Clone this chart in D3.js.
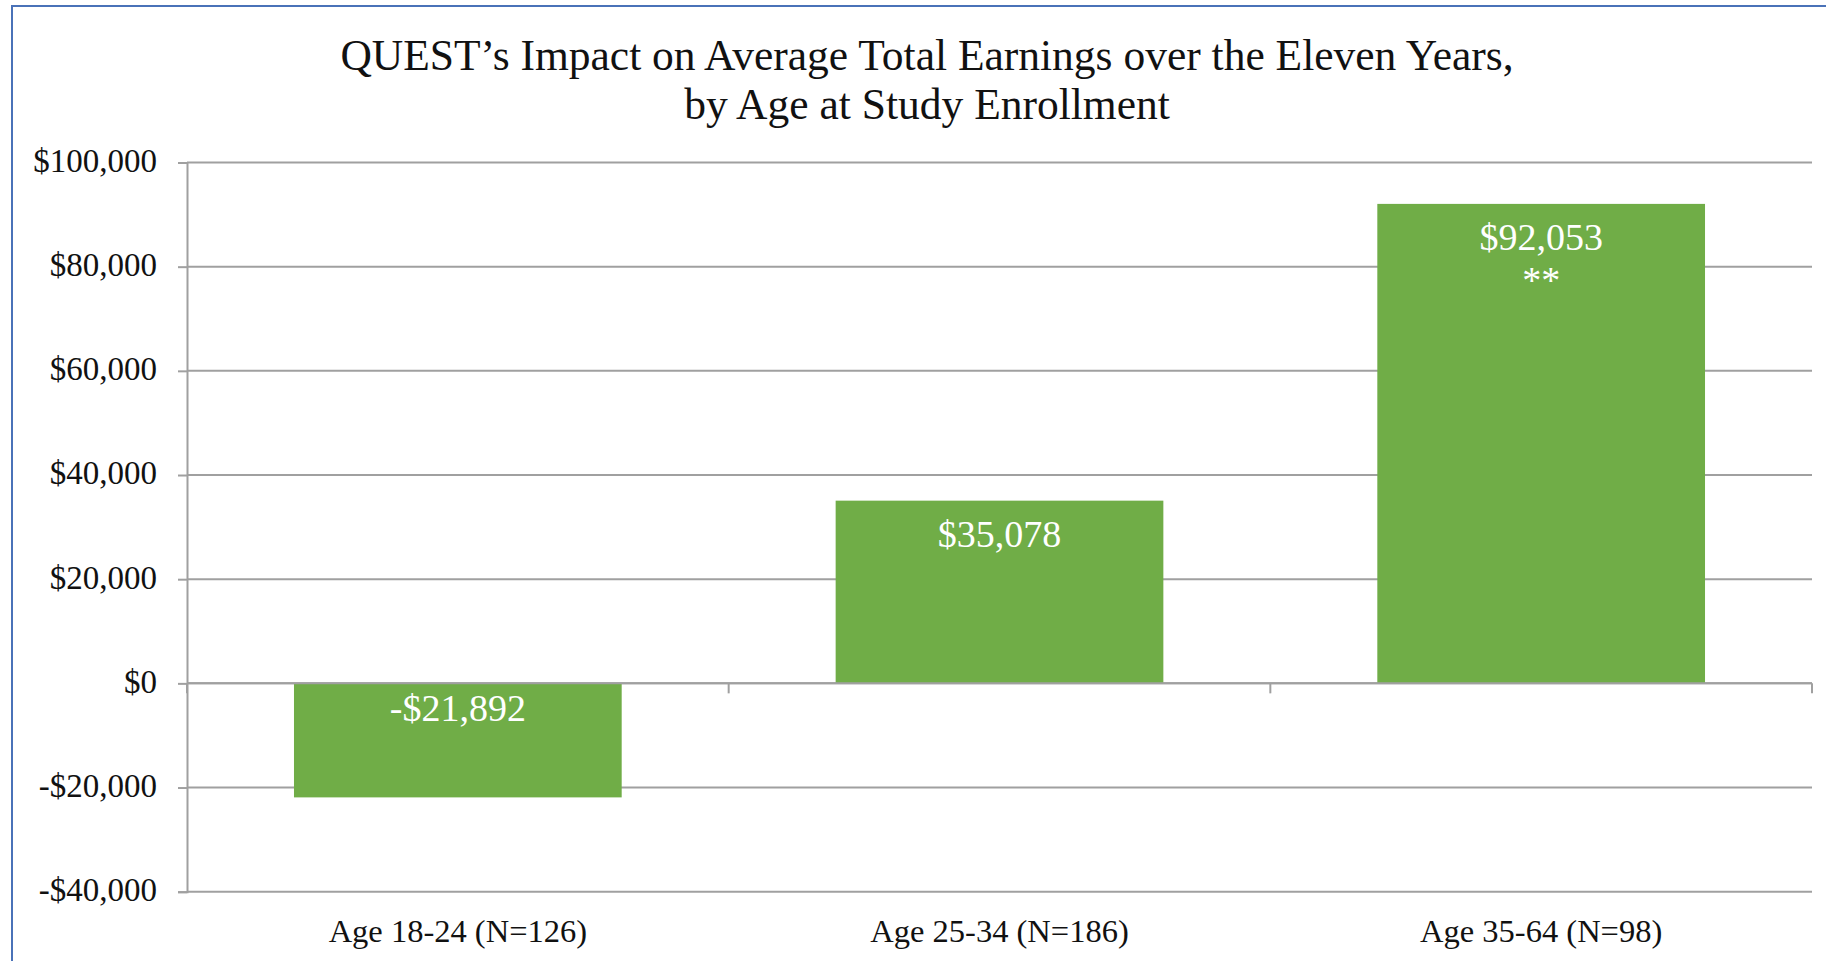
<!DOCTYPE html>
<html>
<head>
<meta charset="utf-8">
<script src="https://cdn.jsdelivr.net/npm/d3@7"></script>
<style>
  body { margin: 0; background: #fff; overflow: hidden; }
  svg { display: block; }
</style>
</head>
<body>
<script>
// chart data
var titleLines = ["QUEST\u2019s Impact on Average Total Earnings over the Eleven Years,", "by Age at Study Enrollment"];
var categories = ["Age 18-24 (N=126)", "Age 25-34 (N=186)", "Age 35-64 (N=98)"];
var values = [-21892, 35078, 92053];
var significance = ["", "", "**"];
var yTicks = [-40000, -20000, 0, 20000, 40000, 60000, 80000, 100000];

var W = 1826, H = 961;
var margin = { top: 162.5, right: 14, bottom: 69.3, left: 187 };
var width = W - margin.left - margin.right,
    height = H - margin.top - margin.bottom;

var fontFamily = "'Liberation Serif', 'DejaVu Serif', serif";
var green = "#70AD47";
var gridColor = "#a0a0a0";

var svg = d3.select("body").append("svg").attr("width", W).attr("height", H);

// chart frame (runs off the right and bottom of the picture)
svg.append("rect")
  .attr("x", 12).attr("y", 6)
  .attr("width", 1900).attr("height", 1000)
  .attr("fill", "none").attr("stroke", "#4a72b8").attr("stroke-width", 2);

// title
svg.append("text")
  .attr("x", 927).attr("y", 70)
  .attr("text-anchor", "middle")
  .style("font-family", fontFamily).style("font-size", "43.5px").attr("fill", "#111")
  .selectAll("tspan").data(titleLines).enter().append("tspan")
  .attr("x", 927).attr("dy", function (d, i) { return i ? 49 : 0; })
  .text(function (d) { return d; });

var g = svg.append("g").attr("transform", "translate(" + margin.left + "," + margin.top + ")");

var x = d3.scaleBand().domain(categories).range([0, width]).paddingInner(0.395).paddingOuter(0.1975);
var y = d3.scaleLinear().domain([-40000, 100000]).range([height, 0]);

function money(v) {
  return (v < 0 ? "-$" : "$") + d3.format(",")(Math.abs(v));
}

// gridlines
g.selectAll(".grid").data(yTicks).enter().append("line")
  .attr("x1", 0).attr("x2", width)
  .attr("y1", function (d) { return y(d); }).attr("y2", function (d) { return y(d); })
  .attr("stroke", gridColor).attr("stroke-width", 2);

// bars
g.selectAll(".bar").data(values).enter().append("rect")
  .attr("x", function (d, i) { return x(categories[i]); })
  .attr("width", x.bandwidth())
  .attr("y", function (d) { return y(Math.max(0, d)); })
  .attr("height", function (d) { return Math.abs(y(d) - y(0)); })
  .attr("fill", green);

// zero line drawn again on top so it stays visible over bars
g.append("line")
  .attr("x1", 0).attr("x2", width).attr("y1", y(0)).attr("y2", y(0))
  .attr("stroke", gridColor).attr("stroke-width", 2);

// category tick marks on the zero line
var bounds = d3.range(categories.length + 1).map(function (i) { return i * x.step(); });
g.selectAll(".xtick").data(bounds).enter().append("line")
  .attr("x1", function (d) { return d; }).attr("x2", function (d) { return d; })
  .attr("y1", y(0)).attr("y2", y(0) + 10)
  .attr("stroke", gridColor).attr("stroke-width", 2);

// y axis
var yAxis = g.append("g")
  .call(d3.axisLeft(y).tickValues(yTicks).tickFormat(money).tickSize(9).tickPadding(21));
yAxis.select(".domain").attr("stroke", gridColor).attr("stroke-width", 2);
yAxis.selectAll(".tick line").attr("stroke", gridColor).attr("stroke-width", 2);
yAxis.selectAll("text")
  .attr("dy", "0.27em")
  .style("font-family", fontFamily).style("font-size", "33px").attr("fill", "#111");

// x axis labels at the bottom of the plot
var xAxis = g.append("g")
  .attr("transform", "translate(0," + height + ")")
  .call(d3.axisBottom(x).tickSize(0).tickPadding(27));
xAxis.select(".domain").remove();
xAxis.selectAll("text")
  .style("font-family", fontFamily).style("font-size", "32.5px").attr("fill", "#111");

// value labels
var labels = g.selectAll(".vlabel").data(values).enter().append("text")
  .attr("text-anchor", "middle")
  .attr("x", function (d, i) { return x(categories[i]) + x.bandwidth() / 2; })
  .attr("y", function (d) { return d >= 0 ? y(d) + 46 : y(0) + 38; })
  .style("font-family", fontFamily).style("font-size", "38px").attr("fill", "#fff");
labels.append("tspan").text(function (d) { return money(d); });
labels.append("tspan")
  .attr("x", function (d, i) { return x(categories[i]) + x.bandwidth() / 2; })
  .attr("dy", 43)
  .text(function (d, i) { return significance[i]; });
</script>
</body>
</html>
